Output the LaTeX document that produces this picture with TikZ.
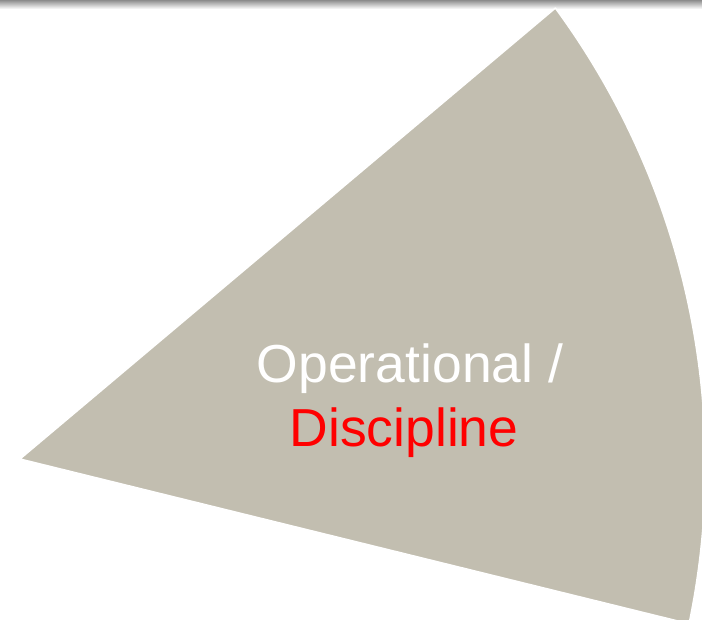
\documentclass[tikz,border=0pt]{standalone}
\usepackage{fontspec}
\setmainfont{Liberation Sans}
\usepackage{xcolor}
\usetikzlibrary{positioning,calc}
\definecolor{slicegray}{RGB}{194,190,176}
\definecolor{discred}{RGB}{255,0,0}

\begin{document}
\begin{tikzpicture}[
    x=1pt, y=1pt,
    slice/.style={fill=slicegray, draw=white, line width=1.5pt, line join=round},
    label/.style={inner sep=0pt, anchor=base, font=\fontsize{53.5}{62}\selectfont}
]

\useasboundingbox (0,0) rectangle (702,620);
\clip (0,0) rectangle (702,620);

% Top shadow band
\shade[top color=black!45, bottom color=white] (0,611) rectangle (702,620);

% Pie slice
\coordinate (apex) at (20,161);
\coordinate (hub) at (-67.6,154.3);
\coordinate (tip) at ($(hub)+(36.3:773)$);
\filldraw[slice] (apex) -- (tip) arc[start angle=36.3, end angle=-11.8, radius=773] -- cycle;

% Label
\node[label, text=white] (oper) at (410,237) {Operational /};
\node[label, text=discred] (disc) at (404,173) {Discipline};

\end{tikzpicture}
\end{document}
